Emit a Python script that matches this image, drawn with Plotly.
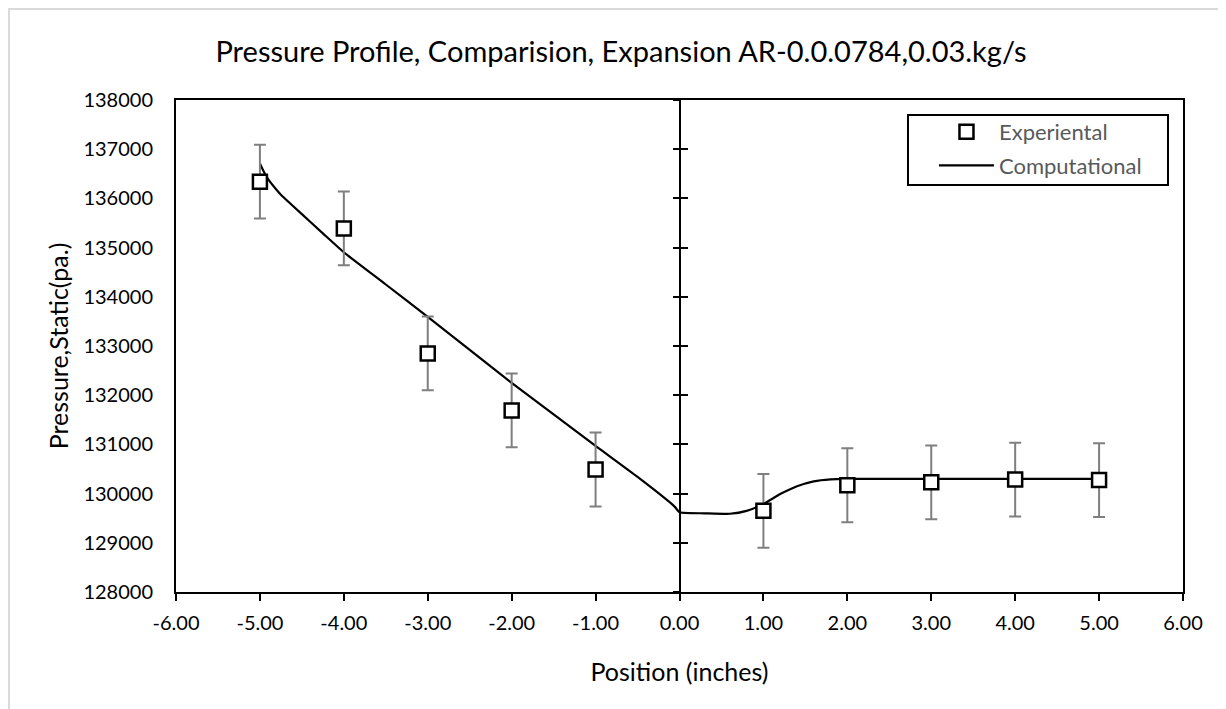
import plotly.graph_objects as go

# Experimental points (position in inches, static pressure in Pa)
exp_x = [-5, -4, -3, -2, -1, 1, 2, 3, 4, 5]
exp_y = [136340, 135390, 132850, 131690, 130490, 129650, 130170, 130230, 130285, 130275]
exp_err = [750, 750, 750, 750, 750, 750, 750, 750, 750, 750]

# Computational curve
comp_x = [-5.0, -4.95, -4.9, -4.8, -4.75, -4.5, -4.25, -4.0, -3.5, -3.0, -2.5, -2.0,
          -1.5, -1.0, -0.5, -0.1, -0.05, 0.0, 0.3, 0.6, 0.8, 1.0, 1.2, 1.4, 1.6,
          1.8, 2.0, 3.0, 4.0, 5.0]
comp_y = [136710, 136530, 136385, 136170, 136075, 135680, 135290, 134905, 134250,
          133590, 132920, 132250, 131610, 130970, 130340, 129800, 129720, 129620,
          129600, 129590, 129650, 129790, 129990, 130150, 130250, 130290, 130300,
          130300, 130300, 130300]

# Axis ticks
x_ticks = [-6, -5, -4, -3, -2, -1, 0, 1, 2, 3, 4, 5, 6]
x_tick_labels = ['-6.00', '-5.00', '-4.00', '-3.00', '-2.00', '-1.00', '0.00',
                 '1.00', '2.00', '3.00', '4.00', '5.00', '6.00']

FONT = "Lato"

fig = go.Figure()

# Computational line (drawn under the markers)
fig.add_trace(go.Scatter(x=comp_x, y=comp_y, mode='lines', name='Computational',
                         line=dict(color='black', width=2.2, shape='spline', smoothing=0.5),
                         legendrank=2, legendgroup='comp'))
# Experimental points with error bars
fig.add_trace(go.Scatter(x=exp_x, y=exp_y, mode='markers', name='Experiental',
                         marker=dict(symbol='square', size=14, color='white',
                                     line=dict(color='black', width=2.5)),
                         error_y=dict(type='data', array=exp_err, color='#7f7f7f',
                                      thickness=2, width=6),
                         legendrank=1, legendgroup='exp'))

# Invisible traces so the tick-only axes at x=0 are drawn
for ax in ['y2', 'y3']:
    fig.add_trace(go.Scatter(x=[None], y=[None], yaxis=ax, showlegend=False, hoverinfo='skip'))

tick_axis = dict(range=[128000, 138000], dtick=1000, overlaying='y', anchor='free',
                 position=0.5, showline=False, showgrid=False, zeroline=False,
                 showticklabels=False, ticklen=7, tickwidth=2, tickcolor='black')

fig.update_layout(
    width=1226, height=709,
    paper_bgcolor='white', plot_bgcolor='white',
    margin=dict(l=168, r=51, t=92, b=125),
    font=dict(family=FONT, color='#000000'),
    title=dict(text='Pressure Profile, Comparision, Expansion AR-0.0.0784,0.03.kg/s',
               x=0.5, xref='container', y=1 - 44 / 709, yanchor='middle',
               font=dict(size=29, color='#000000', family=FONT)),
    xaxis=dict(range=[-6, 6], tickvals=x_ticks, ticktext=x_tick_labels,
               ticks='outside', ticklen=7, ticklabelstandoff=5,
               tickwidth=2, tickcolor='black', showline=True, linecolor='black',
               linewidth=2, mirror=True, showgrid=False,
               zeroline=True, zerolinecolor='black', zerolinewidth=2,
               tickfont=dict(size=20, color='#000000'),
               title=dict(text='Position (inches)', font=dict(size=25), standoff=30)),
    yaxis=dict(range=[128000, 138000], dtick=1000, tickformat='d', ticks='',
               ticklabelstandoff=17,
               showline=True, linecolor='black', linewidth=2, mirror=True,
               showgrid=False, zeroline=False,
               tickfont=dict(size=20, color='#000000'),
               title=dict(text='Pressure,Static(pa.)', font=dict(size=25), standoff=8)),
    yaxis2=dict(ticks='outside', **tick_axis),
    yaxis3=dict(ticks='inside', **tick_axis),
    legend=dict(x=0.7527, y=0.9776, xanchor='left', yanchor='top',
                borderwidth=0, bgcolor='rgba(0,0,0,0)',
                font=dict(size=22, color='#595959'), itemwidth=55,
                tracegroupgap=2),
    shapes=[
        # outer chart-area border
        dict(type='rect', xref='paper', yref='paper', x0=-0.1658, x1=1.0496,
             y0=-0.252, y1=1.185, line=dict(color='#d9d9d9', width=2)),
        # legend frame
        dict(type='rect', xref='paper', yref='paper', x0=0.7269, x1=0.9851,
             y0=0.8272, y1=0.9695, line=dict(color='black', width=2),
             fillcolor='white'),
    ],
)

fig.write_html("out.html")
